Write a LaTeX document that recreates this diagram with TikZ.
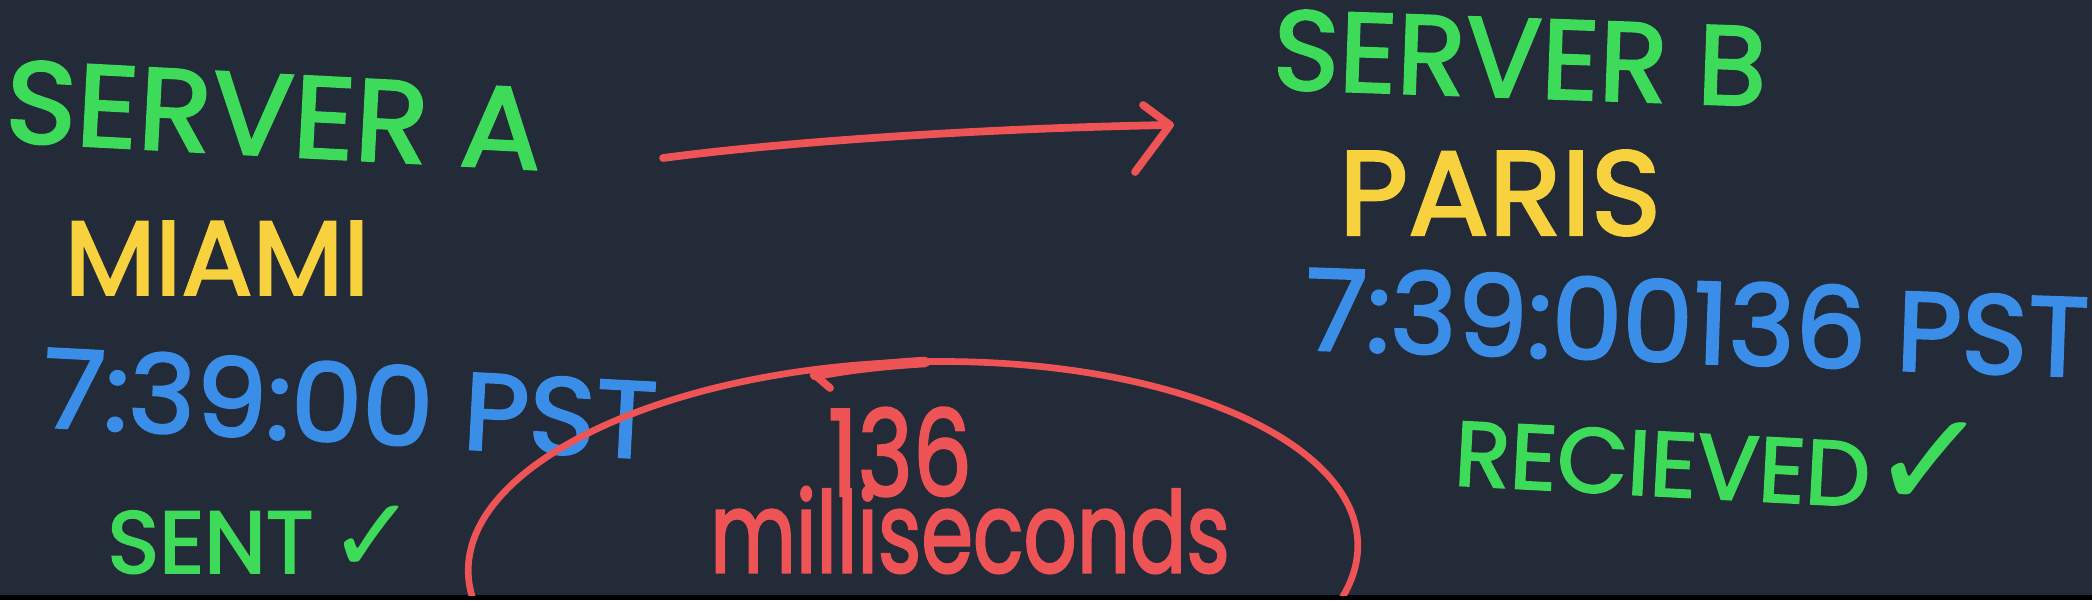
\documentclass[tikz,border=0pt]{standalone}
\usepackage{fontspec}
\setmainfont{Poppins}
\newfontfamily\hfont{Poppins}[FakeBold=2.2]
\newfontfamily\symfont{DejaVu Sans}
\definecolor{bgnavy}{HTML}{232A38}
\definecolor{hgreen}{HTML}{3EDB5B}
\definecolor{hyellow}{HTML}{F7D23E}
\definecolor{hblue}{HTML}{3B8EE8}
\definecolor{hred}{HTML}{EE5455}
\tikzset{
  hand/.style={inner sep=0pt, anchor=center, font=\hfont},
  gtext/.style={hand, text=hgreen},
  ytext/.style={hand, text=hyellow},
  btext/.style={hand, text=hblue},
  rtext/.style={hand, text=hred},
  redline/.style={draw=hred, line width=2.2pt, line cap=round, line join=round},
}
\newcommand{\fs}[1]{\fontsize{#1}{#1}\selectfont}
\newcommand{\chk}[1]{{\symfont\fontsize{#1}{#1}\selectfont ✓}}
\begin{document}
\begin{tikzpicture}[x=0.01cm, y=-0.01cm]
  \fill[black] (0,0) rectangle (2092,600);
  \fill[bgnavy] (0,0) rectangle (2092,595);
  \useasboundingbox (0,0) rectangle (2092,600);

  % left column
  \node[gtext, rotate=-3, xscale=1.04] (sa) at (274,115) {\fs{33pt}SERVER A};
  \node[ytext] (mia) at (217,258) {\fs{30pt}MIAMI};
  \node[btext, rotate=-3, xscale=1.04] (ta) at (350,403) {\fs{31pt}7:39:00 PST};
  \node[gtext] (sent) at (262,540) {\fs{25pt}SENT\,\chk{30pt}};

  % right column
  \node[gtext, rotate=-2] (sb) at (1520,58) {\fs{32pt}SERVER B};
  \node[ytext] (par) at (1500,193) {\fs{34pt}PARIS};
  \node[btext, rotate=-2] (tb) at (1697,322) {\fs{32pt}7:39:00136 PST};
  \node[gtext, rotate=-3] (rec) at (1722,455) {\fs{26pt}RECIEVED\chk{40pt}};

  % transfer arrow
  \coordinate (arrS) at (663,158);
  \coordinate (arrT) at (1170,125);
  \coordinate (barbU) at (1143,105);
  \coordinate (barbD) at (1135,172);
  \draw[redline] (arrS) .. controls (800,140) and (1000,128) .. (arrT);
  \draw[redline] (barbU) -- (arrT) -- (barbD);

  % latency ellipse
  \begin{scope}
    \clip (0,0) rectangle (2092,595);
    \draw[redline, line width=1.9pt] (913,558) ellipse [x radius=445, y radius=196, rotate=2];
  \end{scope}
  \coordinate (eTip) at (815,375);
  \coordinate (eBarb) at (830,388);
  \coordinate (eEnd) at (925,362);
  \draw[redline, line width=3pt] (eTip) .. controls (850,368) and (890,364) .. (eEnd);
  \draw[redline] (eTip) -- (eBarb);

  \node[rtext, xscale=0.78] (n136) at (900,452) {\fs{34pt}136};
  \node[rtext, xscale=0.74] (ms) at (970,530) {\fs{32pt}milliseconds};
\end{tikzpicture}
\end{document}
